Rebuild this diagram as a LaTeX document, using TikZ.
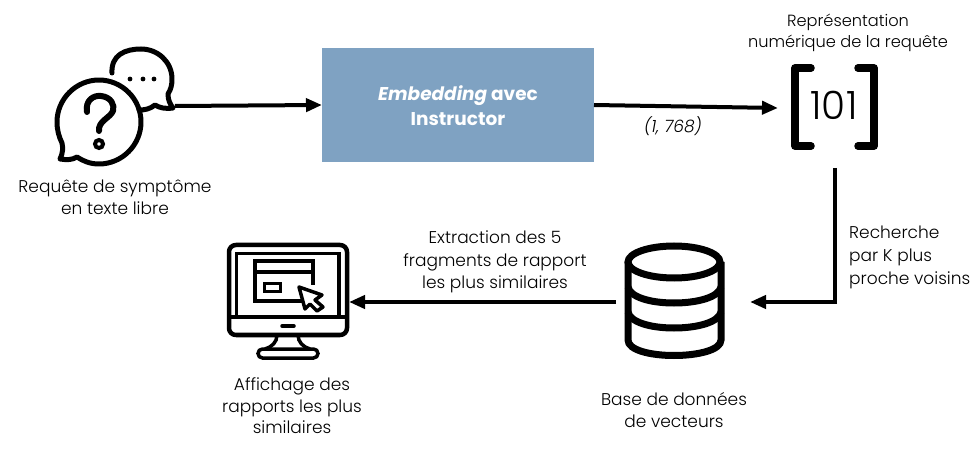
\documentclass[tikz,border=0pt]{standalone}
\usepackage{fontspec}
\setmainfont{Poppins Light}
\newfontfamily\medf{Poppins}
\usetikzlibrary{arrows.meta}
\definecolor{boxblue}{HTML}{7FA2C2}
\tikzset{
  conn/.style={line width=4pt,-{Triangle[length=16pt,width=13pt]}},
  ico/.style={line width=5pt,line join=round,line cap=round},
  anchorbox/.style={inner sep=0pt,outer sep=0pt,draw=none},
  lab/.style={align=center,font=\fontsize{17pt}{21.5pt}\selectfont,inner sep=0pt},
  mainbox/.style={fill=boxblue,draw=none,inner sep=0pt,outer sep=0pt}
}
\begin{document}
\begin{tikzpicture}[x=1pt,y=-1pt]
\useasboundingbox (0,0) rectangle (978,449);
% anchor nodes
\node[anchorbox,minimum width=120pt,minimum height=130pt] (qicon) at (115,106) {};
\node[mainbox,minimum width=272pt,minimum height=114pt] (embed) at (458,105) {};
\node[anchorbox,minimum width=114pt,minimum height=120pt] (vec) at (835,108) {};
\node[anchorbox,minimum width=134pt,minimum height=120pt] (db) at (683,302) {};
\node[anchorbox,minimum width=120pt,minimum height=120pt] (screen) at (289,302) {};
% box text
\node[lab,text=white,font=\medf\fontsize{18.5pt}{25pt}\selectfont\bfseries] (embedtxt) at (458,106) {\textit{Embedding} avec\\Instructor};
% small bubble
\draw[ico] (112,73) .. controls (111,55) and (125,49) .. (141,49)
  .. controls (158,49) and (172,62) .. (172,79)
  .. controls (172,85) and (171,89) .. (168,94) .. controls (168,100) and (170,104) .. (173,108)
  .. controls (165,109) and (160,108) .. (155,105) .. controls (150,109) and (145,110) .. (139,110);
\fill (130,79) circle (2.4pt) (143,79) circle (2.4pt) (154,79) circle (2.4pt);
% big bubble
\draw[ico] (99,80) .. controls (122,80) and (141,99) .. (141,122)
  .. controls (141,145) and (122,164) .. (99,164)
  .. controls (90,164) and (83,161) .. (77,157)
  .. controls (72,160) and (67,160) .. (60,159)
  .. controls (63,153) and (63,148) .. (62,143)
  .. controls (59,137) and (57,130) .. (57,122)
  .. controls (57,99) and (76,80) .. (99,80) -- cycle;
% question mark
\draw[ico,line width=6pt,line cap=round] (87,112) .. controls (85,100) and (94,95) .. (101,96)
  .. controls (111,97) and (115,105) .. (113,111) .. controls (110,118) and (98,121) .. (99,131);
\draw[line width=4pt] (99,144) circle (4pt);
% monitor
\draw[ico,line width=4.5pt] (236,245) -- (340,245) .. controls (344,245) and (347,248) .. (347,252)
  -- (347,328) .. controls (347,332) and (344,335) .. (340,335)
  -- (236,335) .. controls (232,335) and (229,332) .. (229,328)
  -- (229,252) .. controls (229,248) and (232,245) .. (236,245) -- cycle;
\draw[line width=3.5pt] (236.5,316) -- (236.5,253.5) -- (339,253.5) -- (339,316);
\draw[line width=3.5pt] (230,317) -- (346,317);
\draw[line width=3.5pt,line cap=round] (282,326) -- (294,326);
\draw[line width=3.5pt] (303,301) -- (255,301) -- (255,261) -- (313,261) -- (313,285);
\draw[line width=3.5pt] (255,272) -- (313,272);
\draw[line width=3pt] (264,283.5) rectangle (280,291.5);
\draw[line width=3.5pt,line join=round,fill=white] (299,287) -- (322,295) -- (315,300) -- (323,307) -- (317,311) -- (310,304) -- (305,309) -- cycle;
\draw[line width=3.5pt] (277,335) .. controls (277,342) and (272,347) .. (265,349);
\draw[line width=3.5pt] (298,335) .. controls (298,342) and (303,347) .. (310,349);
\draw[line width=3.5pt,rounded corners=4.5pt] (258,349) rectangle (318,358);
% database
\begin{scope}[line width=7pt]
\draw (674,262) ellipse (46pt and 16pt);
\draw (628,262) -- (628,340) .. controls (628,350) and (650,355.5) .. (674,355.5) .. controls (698,355.5) and (721,350) .. (721,340) -- (721,262);
\draw (628,287) .. controls (630,297) and (650,303) .. (674,303) .. controls (698,303) and (719,297) .. (721,287);
\draw (628,312) .. controls (630,322) and (650,328) .. (674,328) .. controls (698,328) and (719,322) .. (721,312);
\end{scope}
% brackets
\draw[line width=7.5pt,line cap=round,line join=round] (811,68) -- (795,68) -- (795,146) -- (811,146);
\draw[line width=7.5pt,line cap=round,line join=round] (858,68) -- (874,68) -- (874,146) -- (858,146);
\node[inner sep=0pt,font=\fontsize{39pt}{39pt}\selectfont] (num) at (834,105) {101};
% connectors
\draw[conn] (qicon.east) -- (embed.west);
\draw[conn] (embed.east) -- (vec.west);
\draw[line width=4pt] (vec.south) -- (vec.south |- db.east);
\draw[conn] ([xshift=2pt]vec.south |- db.east) -- (db.east);
\draw[conn] (db.west) -- (screen.east);
% labels
\node[lab] (l1) at (115,197) {Requête de symptôme\\en texte libre};
\node[lab,font=\fontsize{16.2pt}{21.5pt}\selectfont] (l2) at (848,33) {Représentation\\numérique de la requête};
\node[lab,font=\fontsize{17pt}{14pt}\selectfont\itshape] (l3) at (673,126) {(1, 768)};
\node[lab,align=left,anchor=west,font=\fontsize{17pt}{23pt}\selectfont] (l4) at (849,257) {Recherche\\par K plus\\proche voisins};
\node[lab,font=\fontsize{17pt}{22.5pt}\selectfont] (l5) at (495,262) {Extraction des 5\\fragments de rapport\\les plus similaires};
\node[lab] (l6) at (674,410) {Base de données\\de vecteurs};
\node[lab] (l7) at (292,406) {Affichage des\\rapports les plus\\similaires};
\end{tikzpicture}
\end{document}
